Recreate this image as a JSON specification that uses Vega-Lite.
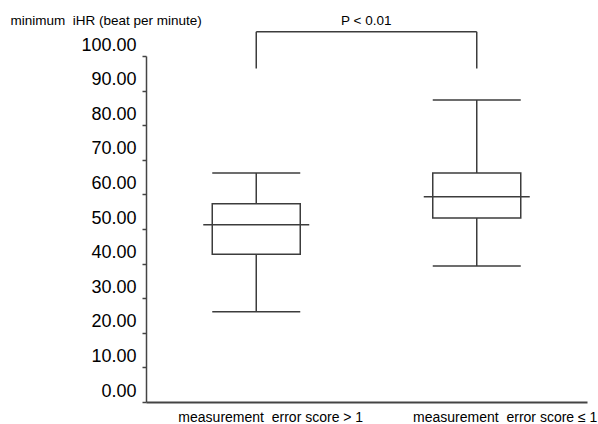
{
  "$schema": "https://vega.github.io/schema/vega-lite/v6.json",
  "autosize": "none",
  "width": 441,
  "height": 346,
  "padding": {"left": 146, "top": 56, "right": 11, "bottom": 22},
  "background": "white",
  "config": {
    "view": {"stroke": null},
    "font": "Liberation Sans",
    "axis": {"grid": false, "labelOverlap": false},
    "axisY": {
      "labelOverlap": false,
      "labelFlush": false,
      "tickCount": 11,
      "labelBound": false,
      "labelOffset": -11,
      "labelFontSize": 18,
      "labelColor": "#000000",
      "labelPadding": 6,
      "tickSize": 4,
      "tickColor": "#444444",
      "tickWidth": 1.5,
      "domainColor": "#444444",
      "domainWidth": 1.5
    }
  },
  "datasets": {
    "boxes": [
      {"group": "measurement\u00a0 error score > 1", "low": 26.1, "q1": 42.7, "median": 51.2, "q3": 57.3, "high": 66.2},
      {"group": "measurement\u00a0 error score ≤ 1", "low": 39.3, "q1": 53.2, "median": 59.3, "q3": 66.2, "high": 87.3}
    ],
    "legs": [
      {"group": "measurement\u00a0 error score > 1", "bottom": 96.4, "top": 107.0},
      {"group": "measurement\u00a0 error score ≤ 1", "bottom": 96.4, "top": 107.0}
    ],
    "bar": [
      {"from": "measurement\u00a0 error score > 1", "to": "measurement\u00a0 error score ≤ 1", "y": 107.0}
    ],
    "note": [
      {"group": "measurement\u00a0 error score > 1", "y": 110.2, "label": "P < 0.01"}
    ]
  },
  "encoding": {
    "x": {
      "field": "group",
      "type": "nominal",
      "scale": {"type": "point", "padding": 0.5, "domain": ["measurement\u00a0 error score > 1", "measurement\u00a0 error score ≤ 1"]},
      "axis": {
        "title": null,
        "ticks": false,
        "labelAngle": 0,
        "labelFontSize": 14,
        "labelColor": "#000000",
        "labelPadding": 8,
        "labelLimit": 0,
        "labelFlush": false,
        "labelOverlap": false,
        "labelOffset": {"condition": {"test": "datum.value == 'measurement\u00a0 error score > 1'", "value": 14}, "value": 28},
        "domainColor": "#444444",
        "domainWidth": 1.8
      }
    }
  },
  "layer": [
    {
      "data": {"name": "boxes"},
      "mark": {"type": "rule", "color": "#3c3c3c", "strokeWidth": 1.5},
      "encoding": {
        "y": {
          "field": "low", "type": "quantitative",
          "scale": {"domain": [0, 100], "nice": false},
          "axis": {
            "values": [0, 10, 20, 30, 40, 50, 60, 70, 80, 90, 100],
            "format": ".2f",
            "labelOffset": -11,
            "title": "minimum\u00a0 iHR (beat per minute)",
            "titleAngle": 0,
            "titleAlign": "left",
            "titleBaseline": "middle",
            "titleX": -136,
            "titleY": -36,
            "titleFontSize": 13.5,
            "titleFontWeight": "normal",
            "titleColor": "#000000"
          }
        },
        "y2": {"field": "q1"}
      }
    },
    {
      "data": {"name": "boxes"},
      "mark": {"type": "rule", "color": "#3c3c3c", "strokeWidth": 1.5},
      "encoding": {
        "y": {"field": "q3", "type": "quantitative"},
        "y2": {"field": "high"}
      }
    },
    {
      "data": {"name": "boxes"},
      "mark": {"type": "bar", "size": 88, "fill": "white", "stroke": "#3c3c3c", "strokeWidth": 1.5},
      "encoding": {
        "y": {"field": "q1", "type": "quantitative"},
        "y2": {"field": "q3"}
      }
    },
    {
      "data": {"name": "boxes"},
      "mark": {"type": "tick", "size": 88, "thickness": 1.5, "color": "#3c3c3c", "opacity": 1},
      "encoding": {"y": {"field": "low", "type": "quantitative"}}
    },
    {
      "data": {"name": "boxes"},
      "mark": {"type": "tick", "size": 88, "thickness": 1.5, "color": "#3c3c3c", "opacity": 1},
      "encoding": {"y": {"field": "high", "type": "quantitative"}}
    },
    {
      "data": {"name": "boxes"},
      "mark": {"type": "tick", "size": 106, "thickness": 1.5, "color": "#3c3c3c", "opacity": 1},
      "encoding": {"y": {"field": "median", "type": "quantitative"}}
    },
    {
      "data": {"name": "legs"},
      "mark": {"type": "rule", "color": "#3c3c3c", "strokeWidth": 1.5, "clip": false},
      "encoding": {
        "y": {"field": "bottom", "type": "quantitative"},
        "y2": {"field": "top"}
      }
    },
    {
      "data": {"name": "bar"},
      "mark": {"type": "rule", "color": "#3c3c3c", "strokeWidth": 1.5, "clip": false},
      "encoding": {
        "x": {"field": "from", "type": "nominal"},
        "x2": {"field": "to"},
        "y": {"field": "y", "type": "quantitative"}
      }
    },
    {
      "data": {"name": "note"},
      "mark": {"type": "text", "fontSize": 13.5, "color": "#000000", "dx": 110, "baseline": "middle", "align": "center", "clip": false},
      "encoding": {
        "y": {"field": "y", "type": "quantitative"},
        "text": {"field": "label"}
      }
    }
  ]
}
